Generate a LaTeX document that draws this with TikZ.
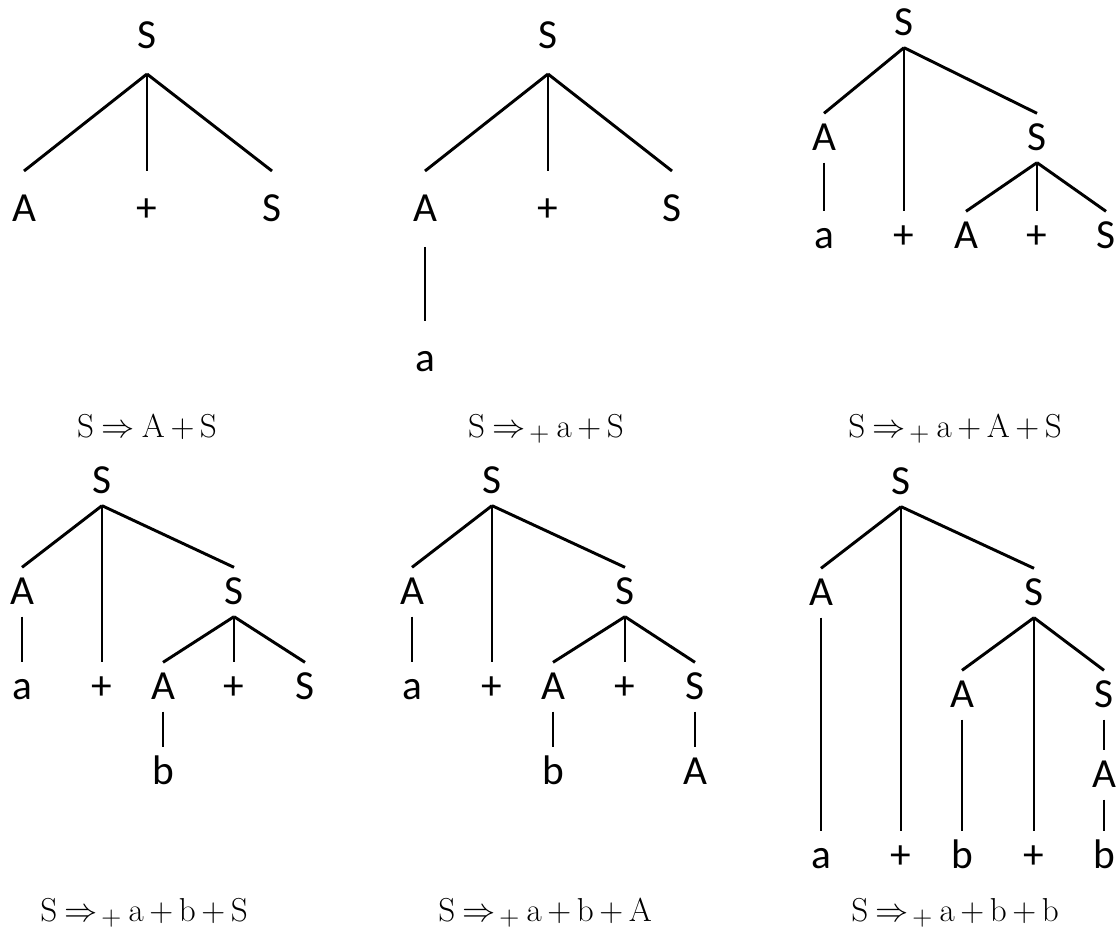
\documentclass[tikz,border=0pt]{standalone}
\usepackage{fontspec}
\newfontfamily\lblfont{Carlito}
\usetikzlibrary{positioning}
\newcommand{\yields}{\mathrel{\Rightarrow\mkern-2mu\raisebox{-0.14em}{$\scriptstyle+$}}}
\newcommand{\tightmu}{\thickmuskip=4mu\relax\medmuskip=3mu\relax}

\begin{document}
\begin{tikzpicture}[
  x=0.75pt, y=-0.75pt,
  lbl/.style={font=\lblfont\fontsize{31}{36}\selectfont, inner sep=0pt, text height=19pt, text depth=0pt, outer ysep=9pt},
  wide/.style={outer ysep=19pt},
  br/.style={line width=2.2pt},
  deriv/.style={font=\fontsize{24.88}{30}\selectfont\tightmu, anchor=base, inner sep=0pt}
]
  \useasboundingbox (0,0) rectangle (1117,930);
  % tree 1
  \node[lbl,wide] (t1s) at (147,36)  {S};
  \node[lbl,wide] (t1a) at (24,209)  {A};
  \node[lbl,wide] (t1p) at (147,209) {+};
  \node[lbl,wide] (t1r) at (272,209) {S};
  \draw[br] (t1s.south) -- (t1a.north);
  \draw[br] (t1s.south) -- (t1p.north);
  \draw[br] (t1s.south) -- (t1r.north);
  \node[deriv] (f1) at (147,437) {$\mathrm{S}\Rightarrow\mathrm{A}+\mathrm{S}$};
  % tree 2
  \node[lbl,wide] (t2s) at (548,36)  {S};
  \node[lbl,wide] (t2a) at (425,209) {A};
  \node[lbl,wide] (t2p) at (548,209) {+};
  \node[lbl,wide] (t2r) at (672,209) {S};
  \node[lbl,wide] (t2x) at (425,359) {a};
  \draw[br] (t2s.south) -- (t2a.north);
  \draw[br] (t2s.south) -- (t2p.north);
  \draw[br] (t2s.south) -- (t2r.north);
  \draw[br] (t2a.south) -- (t2x.north);
  \node[deriv] (f2) at (546,437) {$\mathrm{S}\yields\mathrm{a}+\mathrm{S}$};
  % tree 3
  \node[lbl] (t3s)  at (904,23)   {S};
  \node[lbl] (t3a)  at (824,138)  {A};
  \node[lbl] (t3r)  at (1037,138) {S};
  \node[lbl] (t3x)  at (824,236)  {a};
  \node[lbl] (t3p)  at (904,236)  {+};
  \node[lbl] (t3ra) at (966,236)  {A};
  \node[lbl] (t3rp) at (1037,236) {+};
  \node[lbl] (t3rs) at (1106,236) {S};
  \draw[br] (t3s.south) -- (t3a.north);
  \draw[br] (t3s.south) -- (t3p.north);
  \draw[br] (t3s.south) -- (t3r.north);
  \draw[br] (t3a.south) -- (t3x.north);
  \draw[br] (t3r.south) -- (t3ra.north);
  \draw[br] (t3r.south) -- (t3rp.north);
  \draw[br] (t3r.south) -- (t3rs.north);
  \node[deriv] (f3) at (955,437) {$\mathrm{S}\yields\mathrm{a}+\mathrm{A}+\mathrm{S}$};
  % tree 4
  \node[lbl] (t4s)  at (102,481) {S};
  \node[lbl] (t4a)  at (22,592)  {A};
  \node[lbl] (t4r)  at (234,592) {S};
  \node[lbl] (t4x)  at (22,687)  {a};
  \node[lbl] (t4p)  at (102,687) {+};
  \node[lbl] (t4ra) at (163,687) {A};
  \node[lbl] (t4rp) at (234,687) {+};
  \node[lbl] (t4rs) at (305,687) {S};
  \node[lbl] (t4y)  at (163,772) {b};
  \draw[br] (t4s.south) -- (t4a.north);
  \draw[br] (t4s.south) -- (t4p.north);
  \draw[br] (t4s.south) -- (t4r.north);
  \draw[br] (t4a.south) -- (t4x.north);
  \draw[br] (t4r.south) -- (t4ra.north);
  \draw[br] (t4r.south) -- (t4rp.north);
  \draw[br] (t4r.south) -- (t4rs.north);
  \draw[br] (t4ra.south) -- (t4y.north);
  \node[deriv] (f4) at (144,921) {$\mathrm{S}\yields\mathrm{a}+\mathrm{b}+\mathrm{S}$};
  % tree 5
  \node[lbl] (t5s)  at (492,481) {S};
  \node[lbl] (t5a)  at (412,592) {A};
  \node[lbl] (t5r)  at (625,592) {S};
  \node[lbl] (t5x)  at (412,687) {a};
  \node[lbl] (t5p)  at (492,687) {+};
  \node[lbl] (t5ra) at (553,687) {A};
  \node[lbl] (t5rp) at (625,687) {+};
  \node[lbl] (t5rs) at (695,687) {S};
  \node[lbl] (t5y)  at (553,772) {b};
  \node[lbl] (t5z)  at (695,772) {A};
  \draw[br] (t5s.south) -- (t5a.north);
  \draw[br] (t5s.south) -- (t5p.north);
  \draw[br] (t5s.south) -- (t5r.north);
  \draw[br] (t5a.south) -- (t5x.north);
  \draw[br] (t5r.south) -- (t5ra.north);
  \draw[br] (t5r.south) -- (t5rp.north);
  \draw[br] (t5r.south) -- (t5rs.north);
  \draw[br] (t5ra.south) -- (t5y.north);
  \draw[br] (t5rs.south) -- (t5z.north);
  \node[deriv] (f5) at (545,921) {$\mathrm{S}\yields\mathrm{a}+\mathrm{b}+\mathrm{A}$};
  % tree 6
  \node[lbl] (t6s)  at (901,482)  {S};
  \node[lbl] (t6a)  at (821,593)  {A};
  \node[lbl] (t6r)  at (1034,593) {S};
  \node[lbl] (t6ra) at (962,695)  {A};
  \node[lbl] (t6rs) at (1104,695) {S};
  \node[lbl] (t6z)  at (1104,775) {A};
  \node[lbl] (t6x)  at (821,856)  {a};
  \node[lbl] (t6p)  at (901,856)  {+};
  \node[lbl] (t6y)  at (962,856)  {b};
  \node[lbl] (t6rp) at (1034,856) {+};
  \node[lbl] (t6w)  at (1104,856) {b};
  \draw[br] (t6s.south) -- (t6a.north);
  \draw[br] (t6s.south) -- (t6p.north);
  \draw[br] (t6s.south) -- (t6r.north);
  \draw[br] (t6a.south) -- (t6x.north);
  \draw[br] (t6r.south) -- (t6ra.north);
  \draw[br] (t6r.south) -- (t6rp.north);
  \draw[br] (t6r.south) -- (t6rs.north);
  \draw[br] (t6ra.south) -- (t6y.north);
  \draw[br] (t6rs.south) -- (t6z.north);
  \draw[br] (t6z.south) -- (t6w.north);
  \node[deriv] (f6) at (955,921) {$\mathrm{S}\yields\mathrm{a}+\mathrm{b}+\mathrm{b}$};
\end{tikzpicture}
\end{document}
